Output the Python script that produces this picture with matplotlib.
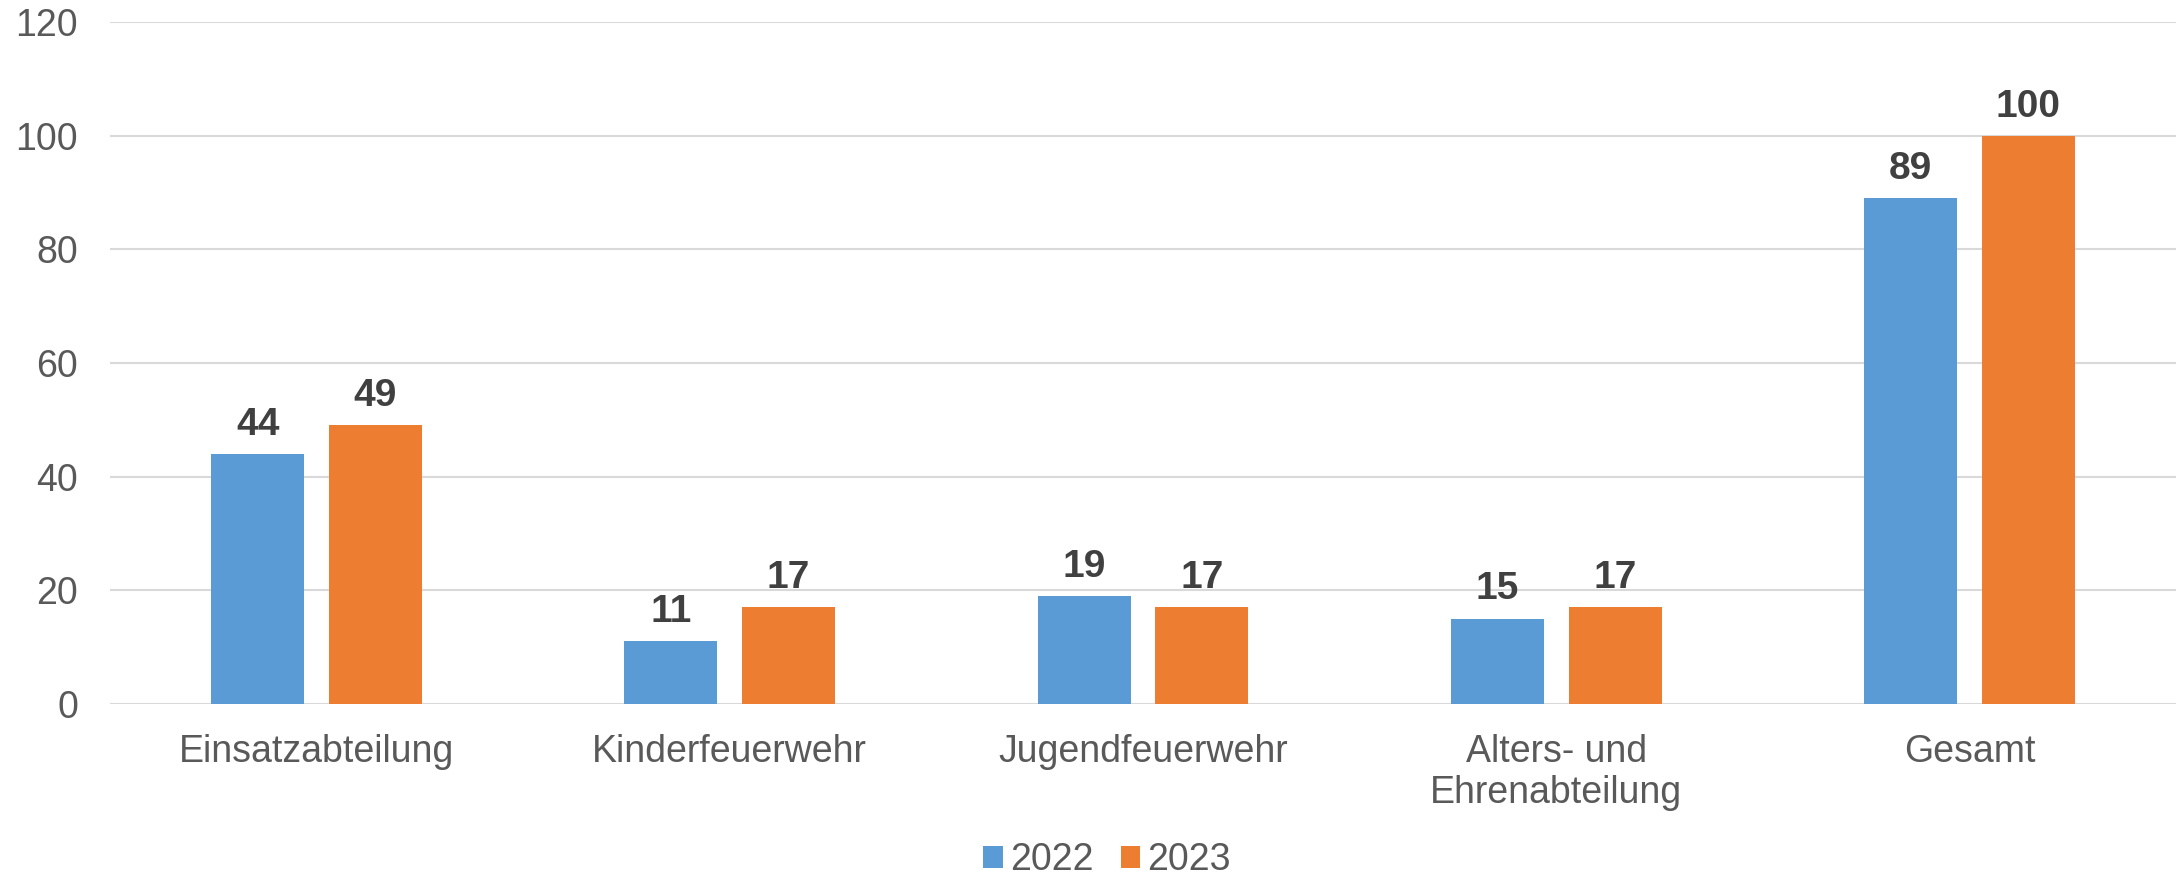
import matplotlib
matplotlib.use("Agg")
import matplotlib.pyplot as plt
import numpy as np

categories = ["Einsatzabteilung", "Kinderfeuerwehr", "Jugendfeuerwehr",
              "Alters- und\nEhrenabteilung", "Gesamt"]
series_names = ["2022", "2023"]
values_2022 = [44, 11, 19, 15, 89]
values_2023 = [49, 17, 17, 17, 100]
y_ticks = [0, 20, 40, 60, 80, 100, 120]

colors = ["#5B9BD5", "#ED7D31"]
plt.rcParams['font.family'] = ['Liberation Sans', 'DejaVu Sans']

fig = plt.figure(figsize=(21.78, 8.74), dpi=100)
ax = fig.add_axes([110/2178, 1 - 703.7/874, (2176-110)/2178, (703.7-22.3)/874])

x = np.arange(len(categories))
w = 0.225
off = 0.1425
b1 = ax.bar(x - off, values_2022, w, color=colors[0], label=series_names[0], zorder=3)
b2 = ax.bar(x + off, values_2023, w, color=colors[1], label=series_names[1], zorder=3)

for bars, vals in ((b1, values_2022), (b2, values_2023)):
    for rect, v in zip(bars, vals):
        ax.annotate(str(v), (rect.get_x() + rect.get_width()/2, rect.get_height()),
                    xytext=(0, 8), textcoords="offset points", ha="center", va="bottom",
                    fontsize=28, fontweight="bold", color="#404040")

ax.set_xlim(-0.5, len(categories) - 0.5)
ax.set_ylim(0, 120)
ax.set_yticks(y_ticks)
ax.set_xticks(x)
ax.set_xticklabels(categories, linespacing=1.18)
ax.tick_params(axis="both", length=0, labelsize=27, labelcolor="#595959")
ax.tick_params(axis="y", pad=23)
ax.tick_params(axis="x", pad=22)
for s in ax.spines.values():
    s.set_visible(False)
ax.yaxis.grid(True, color="#D9D9D9", linewidth=1.5, zorder=0)
ax.set_axisbelow(True)

fig.legend(handles=[b1, b2], labels=series_names, loc="center", bbox_to_anchor=(1107/2178, 1 - 860/874),
           ncol=2, frameon=False, fontsize=27, handlelength=0.52, handleheight=0.52,
           handletextpad=0.2, columnspacing=0.72, labelcolor="#595959")

fig.savefig("out.png", dpi=100, facecolor="white")
